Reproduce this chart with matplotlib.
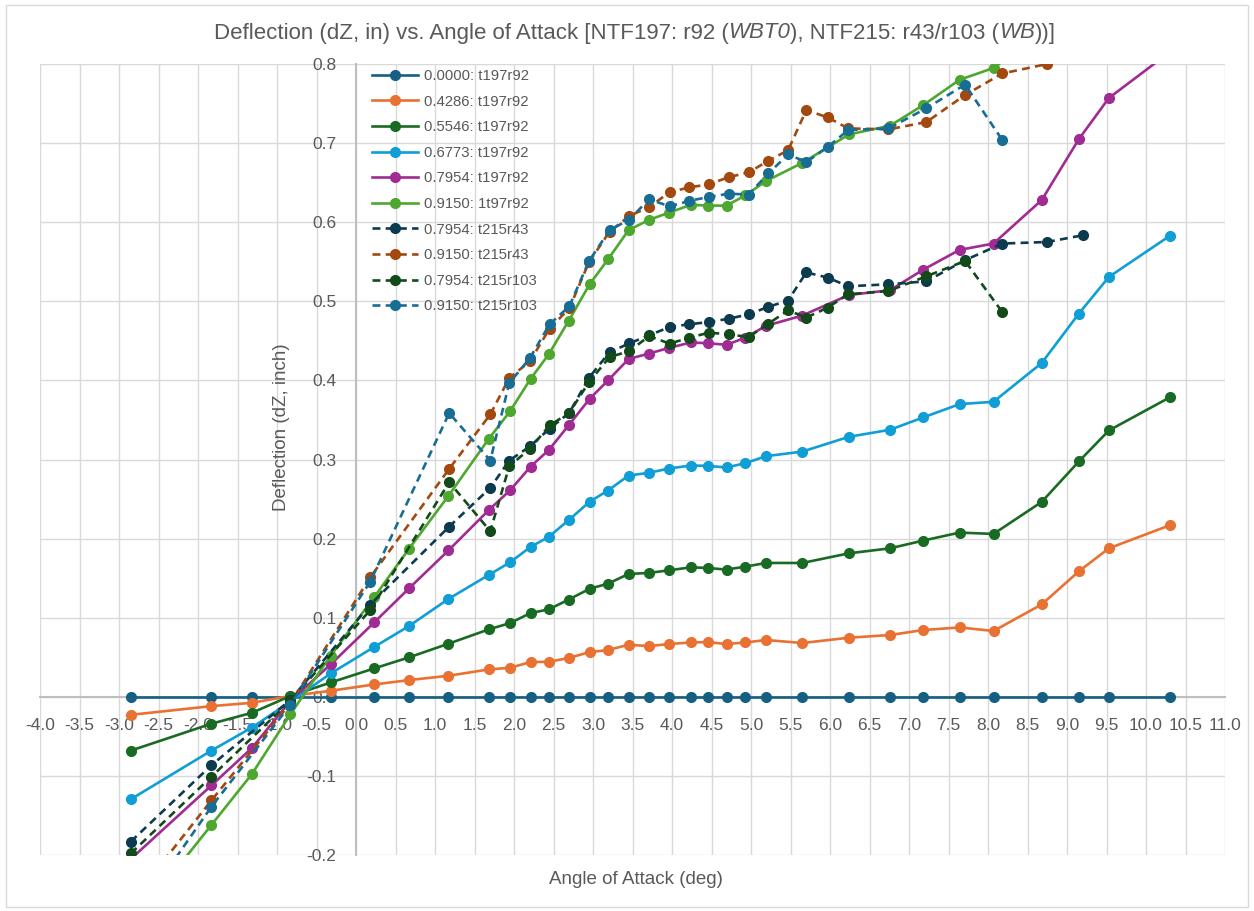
import matplotlib
matplotlib.use("Agg")
import matplotlib.pyplot as plt
from matplotlib.patches import Rectangle
from matplotlib.ticker import MultipleLocator, FormatStrFormatter
from matplotlib.offsetbox import TextArea, HPacker, AnchoredOffsetbox

plt.rcParams['font.family'] = ['Liberation Sans', 'DejaVu Sans']
plt.rcParams['axes.unicode_minus'] = False

# angle of attack, NTF197 run 92
aoa_r92 = [-2.85, -1.83, -1.32, -0.83, -0.32, 0.23, 0.67, 1.17, 1.68, 1.95, 2.21,
           2.44, 2.69, 2.96, 3.19, 3.45, 3.71, 3.96, 4.24, 4.45, 4.69, 4.93, 5.19,
           5.65, 6.24, 6.76, 7.18, 7.64, 8.07, 8.68, 9.15, 9.53, 10.30]

dz_0000_r92 = [0.0] * len(aoa_r92)
dz_4286_r92 = [-0.0228, -0.0118, -0.0076, 0.001, 0.0076, 0.0156, 0.0211, 0.0266, 0.0346,
               0.0367, 0.0439, 0.0443, 0.049, 0.0566, 0.0591, 0.0658, 0.0641, 0.0667,
               0.0687, 0.0692, 0.0667, 0.0687, 0.0718, 0.068, 0.0747, 0.0781, 0.0844,
               0.0877, 0.0832, 0.1168, 0.1586, 0.1877, 0.2168]
dz_5546_r92 = [-0.068, -0.034, -0.0203, 0.001, 0.0181, 0.0359, 0.0498, 0.0671, 0.0852,
               0.0932, 0.1059, 0.1105, 0.1228, 0.1367, 0.143, 0.1553, 0.1566, 0.1599,
               0.1637, 0.1629, 0.1608, 0.1646, 0.1692, 0.1692, 0.1814, 0.1877, 0.1975,
               0.2076, 0.2059, 0.2464, 0.2975, 0.3367, 0.3785]
dz_6773_r92 = [-0.1295, -0.068, -0.039, -0.006, 0.0295, 0.063, 0.0894, 0.1237, 0.154,
               0.170, 0.1895, 0.2022, 0.2232, 0.2468, 0.2608, 0.2797, 0.2832, 0.2886,
               0.2924, 0.292, 0.2899, 0.2954, 0.3042, 0.310, 0.3287, 0.3376, 0.3532,
               0.370, 0.373, 0.422, 0.4844, 0.5308, 0.5827]
dz_7954_r92 = [-0.205, -0.112, -0.065, -0.005, 0.041, 0.094, 0.137, 0.185, 0.236,
               0.261, 0.291, 0.312, 0.343, 0.377, 0.400, 0.427, 0.434, 0.441,
               0.448, 0.447, 0.445, 0.454, 0.469, 0.482, 0.508, 0.514, 0.540,
               0.565, 0.573, 0.628, 0.705, 0.757, 0.815]
dz_9150_r92 = [-0.29, -0.162, -0.098, -0.022, 0.052, 0.126, 0.187, 0.254, 0.326,
               0.361, 0.402, 0.433, 0.475, 0.522, 0.553, 0.590, 0.603, 0.612,
               0.622, 0.621, 0.621, 0.634, 0.652, 0.675, 0.711, 0.722, 0.748,
               0.780, 0.795, 0.84, 0.89, 0.93, 0.99]

# NTF215 runs 43 and 103
aoa_r43 = [-2.85, -1.83, -0.83, 0.18, 1.18, 1.70, 1.94, 2.20, 2.45, 2.70, 2.95, 3.21,
           3.46, 3.71, 3.97, 4.22, 4.47, 4.72, 4.97, 5.22, 5.47, 5.70, 5.97, 6.23,
           6.74, 7.22, 7.71, 8.18, 8.75, 9.20]
dz_7954_r43 = [-0.183, -0.0865, -0.004, 0.1165, 0.2152, 0.2642, 0.2987, 0.3165, 0.339,
               0.359, 0.4034, 0.4358, 0.4468, 0.457, 0.4675, 0.471, 0.4738, 0.478,
               0.4835, 0.493, 0.501, 0.5365, 0.530, 0.519, 0.5215, 0.5253, 0.552,
               0.573, 0.575, 0.5835]
dz_9150_r43 = [-0.26, -0.131, -0.008, 0.151, 0.2882, 0.357, 0.403, 0.424, 0.4654,
               0.491, 0.5497, 0.588, 0.608, 0.619, 0.638, 0.644, 0.648, 0.657,
               0.663, 0.6776, 0.691, 0.7418, 0.7325, 0.7186, 0.7173, 0.7266, 0.7608,
               0.788, 0.80, 0.812]

aoa_r103 = aoa_r43[:28]
dz_7954_r103 = [-0.198, -0.101, -0.005, 0.1097, 0.2713, 0.2093, 0.2915, 0.3135, 0.343,
                0.359, 0.398, 0.4295, 0.437, 0.456, 0.4465, 0.454, 0.4604, 0.4582,
                0.4548, 0.4717, 0.4886, 0.4794, 0.492, 0.5089, 0.513, 0.5316, 0.551,
                0.4865]
dz_9150_r103 = [-0.285, -0.139, -0.01, 0.1456, 0.3587, 0.2987, 0.3966, 0.428, 0.4709,
                0.4937, 0.551, 0.5899, 0.6034, 0.629, 0.620, 0.627, 0.632, 0.636,
                0.635, 0.6616, 0.6857, 0.676, 0.695, 0.7165, 0.7186, 0.744, 0.774,
                0.704]

series = [
    (aoa_r92, dz_0000_r92, "0.0000: t197r92", "#156082", "-"),
    (aoa_r92, dz_4286_r92, "0.4286: t197r92", "#E97132", "-"),
    (aoa_r92, dz_5546_r92, "0.5546: t197r92", "#196B24", "-"),
    (aoa_r92, dz_6773_r92, "0.6773: t197r92", "#0F9ED5", "-"),
    (aoa_r92, dz_7954_r92, "0.7954: t197r92", "#A02B93", "-"),
    (aoa_r92, dz_9150_r92, "0.9150: 1t97r92", "#4EA72E", "-"),
    (aoa_r43, dz_7954_r43, "0.7954: t215r43", "#0C3A4E", "--"),
    (aoa_r43, dz_9150_r43, "0.9150: t215r43", "#A3480F", "--"),
    (aoa_r103, dz_7954_r103, "0.7954: t215r103", "#124A1A", "--"),
    (aoa_r103, dz_9150_r103, "0.9150: t215r103", "#176D93", "--"),
]

W, H = 1254, 911
fig = plt.figure(figsize=(W / 100, H / 100), dpi=100)
ax = fig.add_axes([40 / W, 1 - 855 / H, 1185 / W, (855 - 64) / H])

for x, y, lab, col, ls in series:
    ax.plot(x, y, ls, color=col, lw=1.9, marker='o', ms=7, label=lab,
            dashes=(3, 2) if ls == "--" else (None, None))

ax.set_xlim(-4, 11)
ax.set_ylim(-0.2, 0.8)
ax.xaxis.set_major_locator(MultipleLocator(0.5))
ax.yaxis.set_major_locator(MultipleLocator(0.1))
ax.xaxis.set_major_formatter(FormatStrFormatter('%.1f'))
ax.yaxis.set_major_formatter(FormatStrFormatter('%.1f'))
ax.grid(True, color='#D9D9D9', lw=1)
ax.set_axisbelow(True)
ax.tick_params(length=0, labelsize=12.5, colors='#595959')
ax.tick_params(axis='x', pad=15)
ax.tick_params(axis='y', pad=14)

for s in ['top', 'right']:
    ax.spines[s].set_visible(False)
ax.spines['left'].set_position(('data', 0))
ax.spines['bottom'].set_position(('data', 0))
for s in ['left', 'bottom']:
    ax.spines[s].set_color('#BFBFBF')
    ax.spines[s].set_linewidth(1.5)
    ax.spines[s].set_zorder(1)

# title with italic configuration names
title_parts = [("Deflection (dZ, in) vs. Angle of Attack [NTF197: r92 (", 'normal'),
               ("WBT0", 'italic'),
               ("), NTF215: r43/r103 (", 'normal'),
               ("WB", 'italic'),
               ("))]", 'normal')]
boxes = [TextArea(t, textprops=dict(fontsize=16, color='#595959', fontstyle=st))
         for t, st in title_parts]
title = AnchoredOffsetbox(loc='center', child=HPacker(children=boxes, align='baseline', pad=0, sep=0),
                          frameon=False, bbox_to_anchor=(635 / W, 1 - 33 / H),
                          bbox_transform=fig.transFigure, borderpad=0, pad=0)
fig.add_artist(title)

fig.text(636 / W, 1 - 880 / H, "Angle of Attack (deg)", ha='center', va='center',
         fontsize=13.5, color='#595959')
fig.text(281 / W, 1 - 427 / H, "Deflection (dZ, inch)", ha='center', va='center',
         rotation=90, fontsize=13.5, color='#595959')

leg = ax.legend(loc='upper left', bbox_to_anchor=(372 / W, 1 - 69 / H),
                bbox_transform=fig.transFigure, frameon=False, fontsize=10.7,
                borderpad=0, borderaxespad=0, labelspacing=0.78,
                handlelength=3.1, handletextpad=0.4)
for t in leg.get_texts():
    t.set_color('#595959')

fig.patches.append(Rectangle((6 / W, 4 / H), 1 - 12 / W, 1 - 9 / H,
                             transform=fig.transFigure, fill=False,
                             edgecolor='#D9D9D9', lw=1))

fig.savefig("out.png", dpi=100)
